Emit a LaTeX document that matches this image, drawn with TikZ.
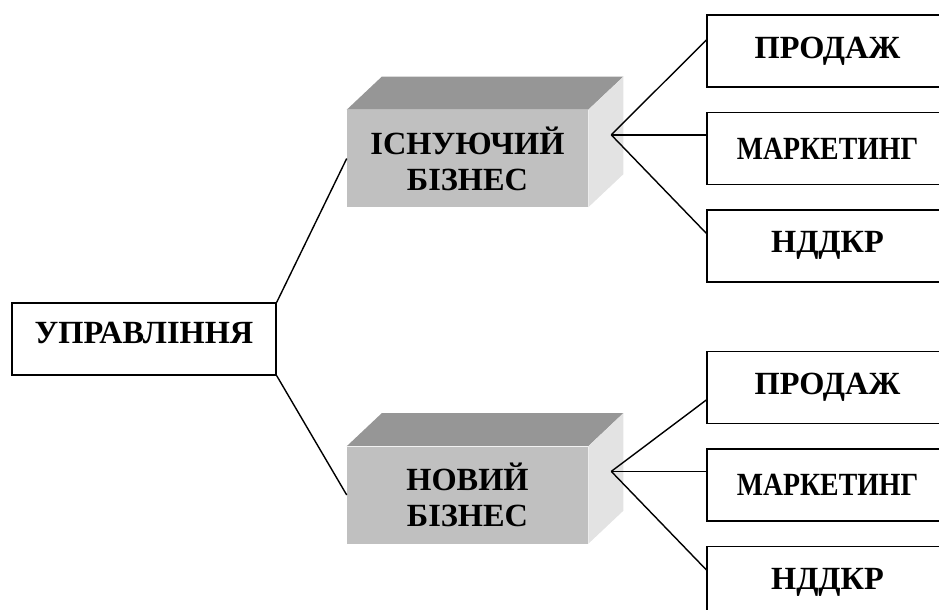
\documentclass[tikz,border=0pt]{standalone}
\usepackage{fontspec}
\setmainfont{Liberation Serif}
\usepackage{graphicx}
\usetikzlibrary{positioning,calc}

\definecolor{frontgray}{HTML}{C0C0C0}
\definecolor{topgray}{HTML}{969696}
\definecolor{sidegray}{HTML}{E3E3E3}

\tikzset{
  lbl/.style={font=\fontsize{23}{25.6}\selectfont\bfseries, align=center},
  plainbox/.style={lbl, draw, line width=1pt, minimum width=6.025cm, minimum height=1.8cm},
  frontface/.style={lbl, fill=frontgray, minimum width=6.025cm, minimum height=2.425cm, inner sep=0pt},
  link/.style={line width=1pt},
}

\begin{document}
\begin{tikzpicture}
  \useasboundingbox (0,0) rectangle (23.475,-15.25);

  % left box
  \node [plainbox, minimum width=6.6cm, text depth=0.3cm] (upr) at (3.6,-8.475) {УПРАВЛІННЯ};

  % the two blocks
  \node [frontface] (isn) at (11.6875,-3.9625) {ІСНУЮЧИЙ\\БІЗНЕС};
  \node [frontface] (nov) at (11.6875,-12.375) {НОВИЙ\\БІЗНЕС};
  \foreach \b in {isn,nov} {
    \fill [topgray] (\b.north west) -- ++(0.875,0.825) -- ($(\b.north east)+(0.875,0.825)$) -- (\b.north east) -- cycle;
    \fill [sidegray] (\b.north east) -- ++(0.875,0.825) -- ($(\b.south east)+(0.875,0.825)$) -- (\b.south east) -- cycle;
    \coordinate (\b-hub) at ($(\b.east)+(0.575,0.59)$);
  }

  % right column, upper group
  \node [plainbox] (prod1) at (20.6875,-1.275) {ПРОДАЖ};
  \node [plainbox, below=0.6cm of prod1] (mark1) {\scalebox{0.86}[1]{МАРКЕТИНГ}};
  \node [plainbox, below=0.6cm of mark1] (rnd1) {НДДКР};

  % right column, lower group
  \node [plainbox] (prod2) at (20.6875,-9.6875) {ПРОДАЖ};
  \node [plainbox, below=0.6cm of prod2] (mark2) {\scalebox{0.86}[1]{МАРКЕТИНГ}};
  \node [plainbox, below=0.6cm of mark2] (rnd2) {НДДКР};

  \draw [link] (upr.north east) -- (isn.west);
  \draw [link] (upr.south east) -- (nov.west);

  \draw [link] (isn-hub) -- ($(prod1.west)+(0,0.275)$);
  \draw [link] (isn-hub) -- (isn-hub -| mark1.west);
  \draw [link] (isn-hub) -- ($(rnd1.west)+(0,0.3125)$);

  \draw [link] (nov-hub) -- ($(prod2.west)+(0,-0.3125)$);
  \draw [link] (nov-hub) -- (nov-hub -| mark2.west);
  \draw [link] (nov-hub) -- ($(rnd2.west)+(0,0.3125)$);
\end{tikzpicture}
\end{document}
